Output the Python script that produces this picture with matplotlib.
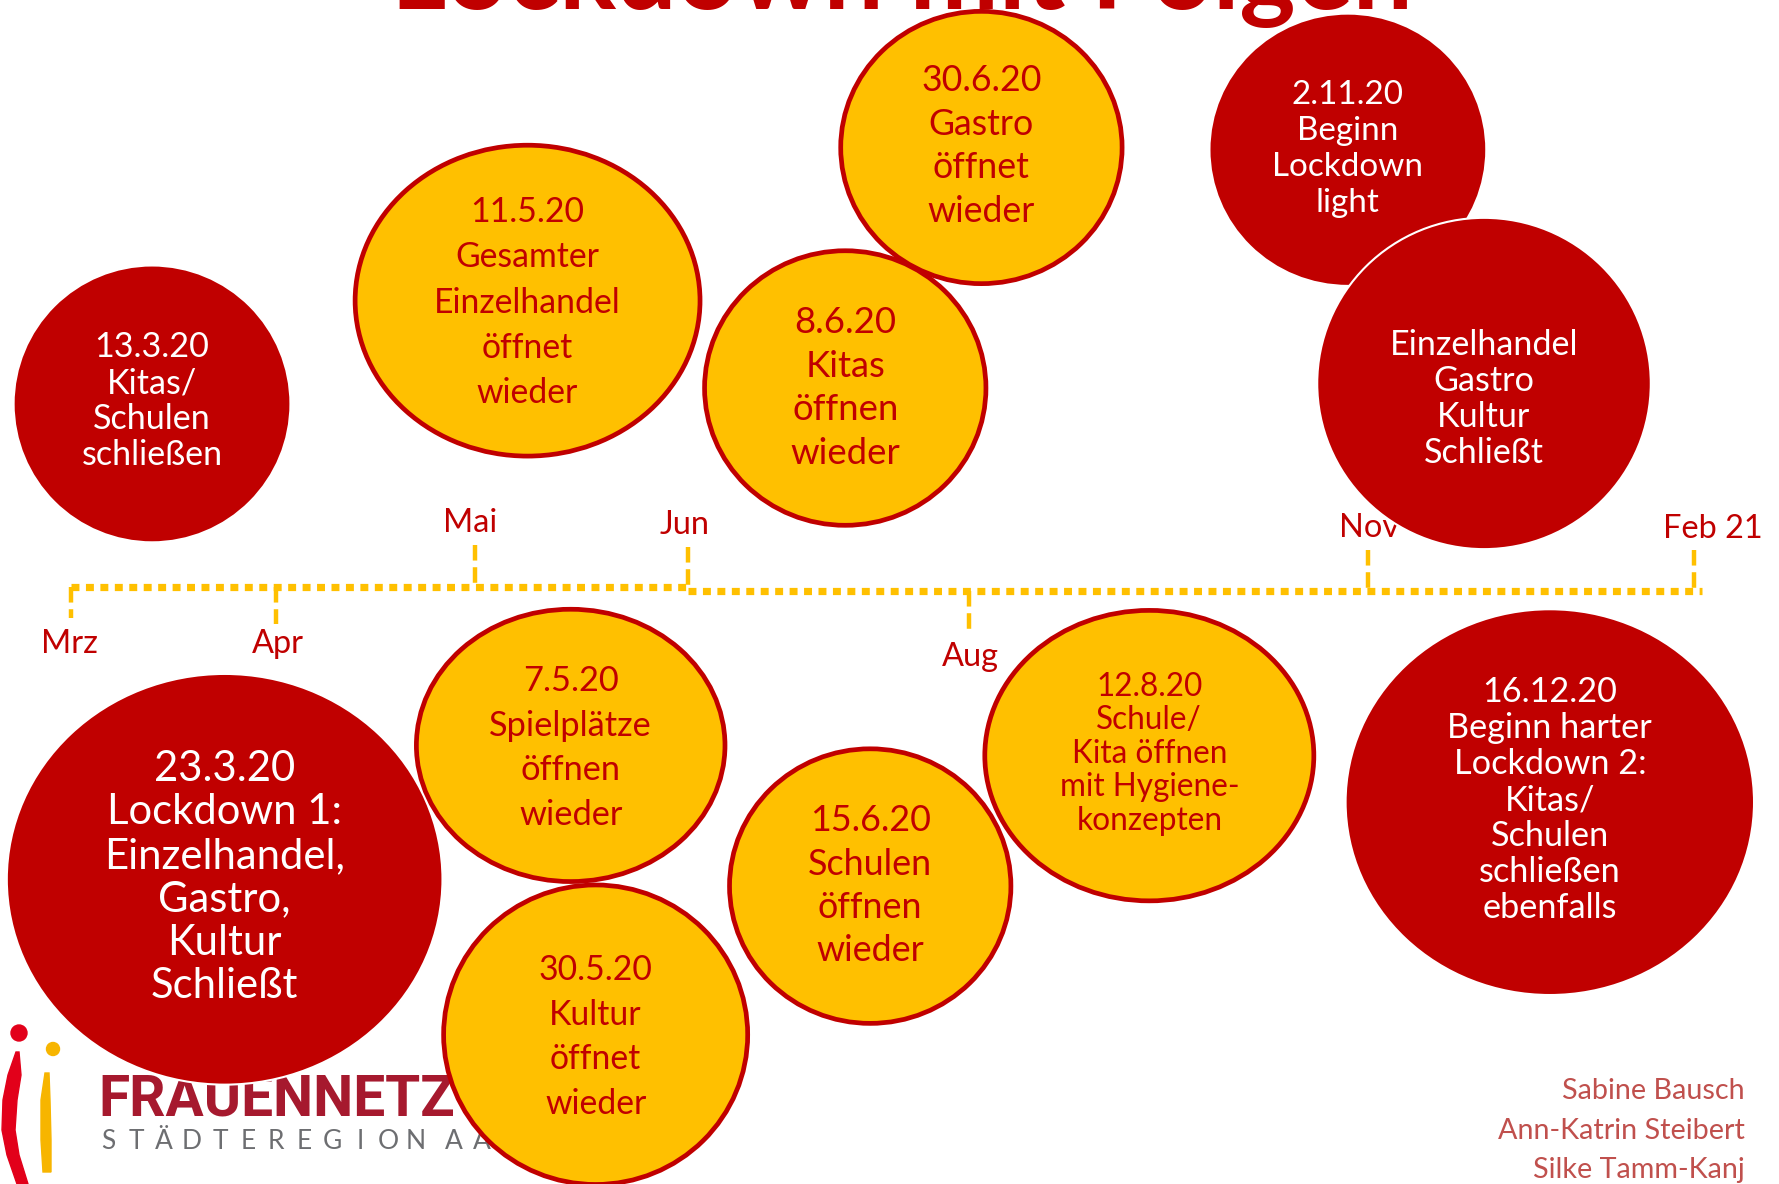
import matplotlib
matplotlib.use("Agg")
import matplotlib.pyplot as plt
from matplotlib.patches import Ellipse, Polygon, Circle

# ---------------- data ----------------
title = "Lockdown mit Folgen"
months = ["Mrz", "Apr", "Mai", "Jun", "Aug", "Nov", "Feb 21"]
event_dates = ["13.3.20", "11.5.20", "30.6.20", "8.6.20", "2.11.20", "",
               "23.3.20", "7.5.20", "30.5.20", "15.6.20", "12.8.20", "16.12.20"]
event_texts = [
    ["Kitas/", "Schulen", "schließen"],
    ["Gesamter", "Einzelhandel", "öffnet", "wieder"],
    ["Gastro", "öffnet", "wieder"],
    ["Kitas", "öffnen", "wieder"],
    ["Beginn", "Lockdown", "light"],
    ["Einzelhandel", "Gastro", "Kultur", "Schließt"],
    ["Lockdown 1:", "Einzelhandel,", "Gastro,", "Kultur", "Schließt"],
    ["Spielplätze", "öffnen", "wieder"],
    ["Kultur", "öffnet", "wieder"],
    ["Schulen", "öffnen", "wieder"],
    ["Schule/", "Kita öffnen", "mit Hygiene-", "konzepten"],
    ["Beginn harter", "Lockdown 2:", "Kitas/", "Schulen", "schließen", "ebenfalls"],
]
event_kind = ["zu", "auf", "auf", "auf", "zu", "zu", "zu", "auf", "auf", "auf", "auf", "zu"]
authors = ["Sabine Bausch", "Ann-Katrin Steibert", "Silke Tamm-Kanj"]
logo_name = "FRAUENNETZ"
logo_sub = "STÄDTEREGION AACHEN"

# ---------------- layout (reference pixels, shrunk 1568 scale) ----------------
S = 1779 / 1568
W, H = 1779, 1184
RED, YEL = "#C00000", "#FFC000"

# ellipse center x, y, rx, ry
circ = [(134, 356, 122, 122), (465, 265, 152, 137), (865, 130, 124, 120),
        (745, 342, 124, 121), (1188, 132, 122, 120), (1308, 338, 147, 146),
        (198, 775, 192, 181), (503, 657, 136, 120), (525, 912, 134, 132),
        (767, 781, 124, 121), (1013, 666, 145, 128), (1366, 707, 180, 170)]
# (index of line used for fitting, its width, first line center y, line spacing)
txt_lay = [(3, 125, 306, 31.7), (2, 165, 187, 39.8), (0, 106, 71, 38.3),
           (3, 97, 284, 38.3), (2, 133, 83, 31.7), (0, 167, 304, 31.7),
           (2, 213, 677, 38.4), (1, 144, 600, 39.3), (0, 100, 855, 39.3),
           (1, 110, 723, 38.3), (3, 159, 605, 29.5), (1, 181, 610, 31.7)]

month_x = [63, 243, 419, 606, 854, 1206, 1493]
month_tick = [(517, 545), (517, 550), (480, 517), (482, 517), (521, 560), (485, 521), (485, 521)]
month_lab = [(61, 568), (245, 568), (414, 461), (603, 463), (855, 579), (1207, 465), (1510, 466)]

fig = plt.figure(figsize=(W / 100, H / 100), dpi=100)
ax = fig.add_axes([0, 0, 1, 1])
ax.set_xlim(0, W)
ax.set_ylim(H, 0)
ax.axis("off")
fig.canvas.draw()
renderer = fig.canvas.get_renderer()


def fit(s, target, **kw):
    t = ax.text(0, 0, s, fontsize=20, **kw)
    w = t.get_window_extent(renderer).width
    t.remove()
    return 20 * target / w


# title (cut off at top, as in the reference slide)
fs = fit(title, 900 * S, family="Lato", weight="bold")
ax.text(795 * S, 9, title, fontsize=fs, family="Lato", weight="bold", color=RED,
        ha="center", va="baseline", zorder=1)

# timeline
ax.plot([63 * S, 606 * S], [517 * S, 517 * S], color=YEL, lw=5.2,
        linestyle=(0, (1.1, 0.9)), dash_capstyle="butt", zorder=2)
ax.plot([606 * S, 1500 * S], [520.5 * S, 520.5 * S], color=YEL, lw=5.2,
        linestyle=(0, (1.1, 0.9)), dash_capstyle="butt", zorder=2)
mfs = fit("Feb 21", 88 * S, family="Lato")
for x, (y1, y2), (lx, ly), m in zip(month_x, month_tick, month_lab, months):
    ax.plot([x * S, x * S], [y1 * S, y2 * S], color=YEL, lw=3.2,
            linestyle=(0, (3.5, 1.5)), dash_capstyle="butt", zorder=2)
    ax.text(lx * S, ly * S, m, fontsize=mfs, family="Lato", color=RED,
            ha="center", va="center", zorder=3)

# logo
ax.add_patch(Circle((19, 1033), 8, color="#E2001A", zorder=4))
ax.add_patch(Polygon([(16, 1052), (8, 1075), (3, 1100), (2, 1130), (7, 1155), (17, 1184),
                      (28, 1184), (19, 1155), (15, 1130), (17, 1100), (21, 1075), (19, 1052)],
                     closed=True, color="#E2001A", zorder=4))
ax.add_patch(Circle((53, 1049), 6.5, color="#F7B500", zorder=4))
ax.add_patch(Polygon([(45, 1073), (41, 1100), (41, 1140), (43, 1172), (51, 1172),
                      (51, 1140), (50, 1100), (49, 1073)],
                     closed=True, color="#F7B500", zorder=4))
lfs = fit(logo_name, 356, family="Roboto", weight="bold")
ax.text(98, 1116, logo_name, fontsize=lfs, family="Roboto", weight="bold",
        color="#A6192E", ha="left", va="baseline", zorder=4)
x = 108
for ch in logo_sub:
    if ch == " ":
        x += 10
        continue
    ax.text(x, 1149, ch, fontsize=19, family="Lato", color="#6D6E71",
            ha="center", va="baseline", zorder=4)
    x += 28.0

# authors
afs = fit(authors[1], 218 * S, family="Lato")
for i, a in enumerate(authors):
    ax.text(1538 * S, (962 + 34.5 * i) * S, a, fontsize=afs, family="Lato",
            color="#C0504D", ha="right", va="center", zorder=3)

# event circles
for i, ((cx, cy, rx, ry), (ri, rw, y0, sp), d, lines, k) in enumerate(
        zip(circ, txt_lay, event_dates, event_texts, event_kind)):
    z = 10 + 2 * i
    if k == "zu":
        e = Ellipse((cx * S, cy * S), 2 * rx * S, 2 * ry * S, facecolor=RED,
                    edgecolor="white", lw=1.5, zorder=z)
        tc = "white"
    else:
        e = Ellipse((cx * S, cy * S), 2 * rx * S, 2 * ry * S, facecolor=YEL,
                    edgecolor=RED, lw=3.4, zorder=z)
        tc = RED
    ax.add_patch(e)
    all_lines = ([d] if d else []) + lines
    f = fit(all_lines[ri], rw * S, family="Lato")
    em = f / 0.72
    for j, ln in enumerate(all_lines):
        yc = (y0 + j * sp) * S
        ax.text(cx * S, yc + 0.3 * em, ln, fontsize=f, family="Lato", color=tc,
                ha="center", va="baseline", zorder=z + 1)

fig.savefig("out.png", dpi=100)
